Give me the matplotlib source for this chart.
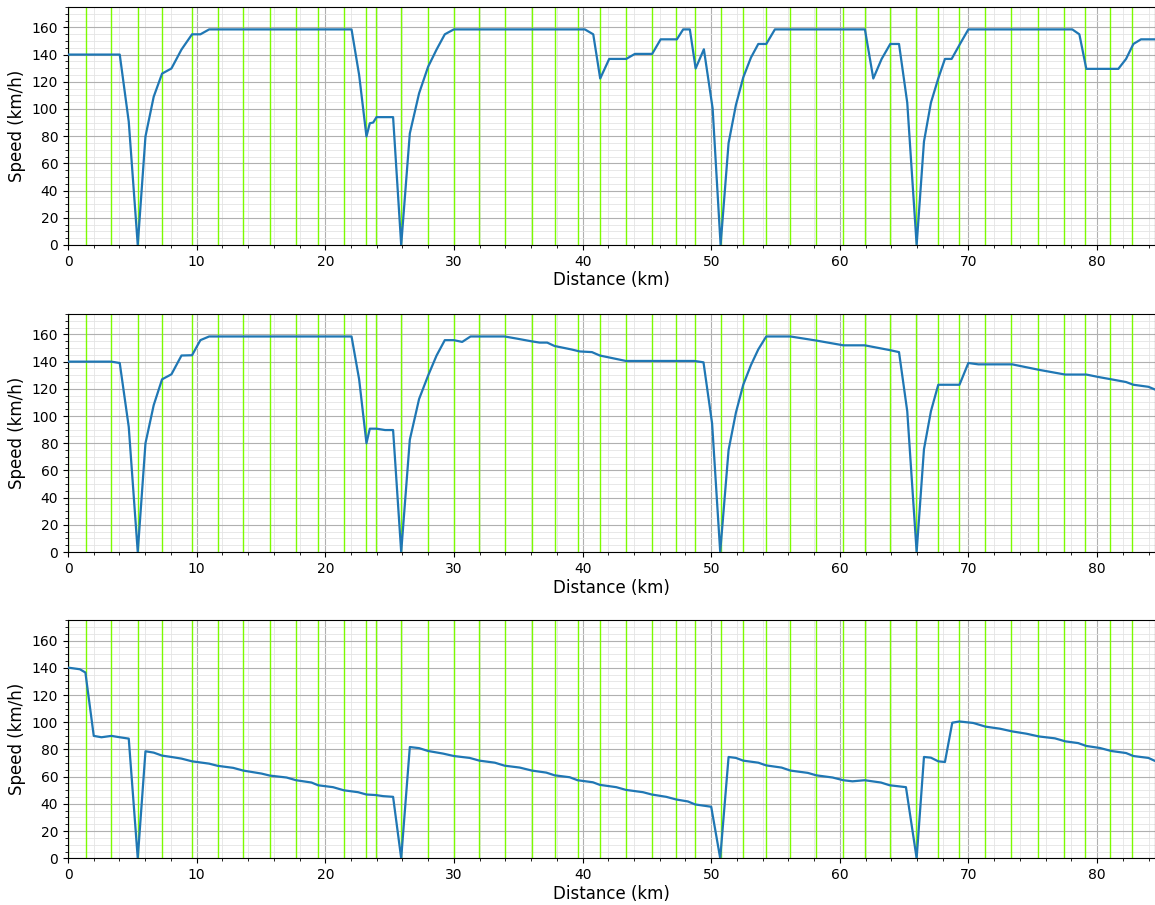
import matplotlib
matplotlib.use("Agg")
import matplotlib.pyplot as plt
from matplotlib.ticker import AutoMinorLocator

# green marker positions (km)
marks = [0, 1.37, 3.34, 5.44, 7.33, 9.66, 11.63, 13.62, 15.69, 17.73, 19.44,
         21.44, 23.2, 23.92, 25.89, 27.99, 29.98, 31.98, 33.94, 36.06, 37.83,
         39.61, 41.34, 43.36, 45.38, 47.3, 48.75, 50.77, 52.45, 54.24, 56.16,
         58.17, 60.27, 61.93, 63.87, 65.92, 67.6, 69.26, 71.28, 73.34, 75.42,
         77.46, 79.09, 81.03, 82.74]

x1 = [0, 4.02, 4.72, 5.42, 6.02, 6.66, 7.31, 8.04, 8.82, 9.64, 10.29, 10.97,
      22.04, 22.63, 23.2, 23.46, 23.72, 23.98, 25.27, 25.9, 26.57, 27.29,
      27.99, 28.65, 29.29, 29.99, 40.18, 40.83, 41.37, 42.07, 43.39, 44.07,
      45.41, 46.07, 47.33, 47.82, 48.34, 48.79, 49.43, 50.11, 50.73, 51.35,
      51.92, 52.49, 53.09, 53.66, 54.28, 54.95, 61.95, 62.6, 63.25, 63.92,
      64.6, 65.24, 65.97, 66.54, 67.08, 67.65, 68.17, 68.69, 69.34, 69.99,
      78.07, 78.62, 79.16, 81.65, 82.25, 82.82, 83.41, 84.5]
v1 = [140, 140, 90.7, 0, 79.8, 109, 126, 129.8, 143.7, 154.9, 154.9, 158.5,
      158.5, 125, 79.8, 89.5, 90, 94, 94, 0, 82, 111.5,
      131, 143.7, 154.9, 158.5, 158.5, 154.9, 122.4, 136.8, 136.8, 140.5,
      140.5, 151.2, 151.2, 158.5, 158.5, 129.8, 143.9, 100.5, 0, 74.9,
      102.9, 123.2, 137.8, 147.8, 147.8, 158.5, 158.5, 122.4, 136.8, 147.8,
      147.8, 104.6, 0, 76, 104.6, 122.4, 136.8, 136.8, 147.8, 158.5,
      158.5, 154.9, 129.5, 129.5, 136.8, 147.8, 151.2, 151.2]

x2 = [0, 3.37, 4.02, 4.72, 5.42, 6.02, 6.66, 7.31, 8.04, 8.82, 9.64, 10.29,
      10.97, 22.04, 22.63, 23.2, 23.46, 23.98, 24.65, 25.27, 25.9, 26.57,
      27.29, 27.99, 28.65, 29.29, 29.99, 30.64, 31.29, 33.94, 34.85, 36.0,
      36.66, 37.25, 37.82, 39.12, 39.77, 40.73, 41.34, 42.1, 43.37, 48.7,
      49.4, 50.07, 50.7, 51.35, 51.92, 52.49, 53.09, 53.66, 54.28, 56.16,
      58.17, 60.27, 61.93, 63.87, 64.6, 65.24, 65.97, 66.54, 67.08, 67.65,
      69.3, 69.99, 70.77, 73.4, 75.47, 77.52, 79.16, 80.22, 81.1, 82.25,
      82.82, 83.99, 84.5]
v2 = [140, 140, 139, 92, 0, 80, 108, 127, 130.7, 144.5, 144.7, 155.8,
      158.5, 158.5, 127, 80, 90.7, 90.7, 89.7, 89.7, 0, 82.6,
      112.5, 129.7, 144.5, 155.8, 155.8, 154.5, 158.5, 158.5, 157, 155,
      154, 154, 151.5, 149, 147.5, 147, 144.5, 143, 140.5, 140.5,
      139.5, 94.5, 0, 75, 102.5, 123, 137.5, 149, 158.5, 158.5,
      155.5, 152, 152, 148.5, 147, 103.5, 0, 75.6, 103.5, 123,
      123, 139, 138, 138, 134, 130.5, 130.5, 128.5, 127, 125,
      123, 121.5, 119.5]

x3 = [0, 0.92, 1.35, 2.0, 2.6, 3.37, 4.02, 4.72, 5.42, 6.02, 6.66, 7.31,
      8.04, 8.82, 9.64, 10.97, 11.63, 12.84, 13.62, 15.04, 15.69, 16.99,
      17.73, 18.93, 19.44, 20.6, 21.44, 22.55, 23.2, 23.92, 24.5, 25.27,
      25.9, 26.57, 27.29, 27.99, 29.15, 29.99, 31.23, 31.98, 33.18, 33.94,
      35.12, 36.06, 37.18, 37.83, 39.0, 39.61, 40.8, 41.34, 42.62, 43.37,
      44.7, 45.38, 46.5, 47.3, 48.19, 48.75, 50.0, 50.7, 51.35, 51.92,
      52.49, 53.66, 54.28, 55.47, 56.16, 57.51, 58.17, 59.44, 60.27, 60.98,
      61.93, 63.2, 63.87, 65.14, 65.97, 66.54, 67.08, 67.65, 68.17, 68.74,
      69.3, 70.37, 71.33, 72.44, 73.4, 74.51, 75.47, 76.72, 77.52, 78.53,
      79.16, 80.22, 81.1, 82.25, 82.82, 83.99, 84.5]
v3 = [140.2, 139, 136.6, 90, 89, 90, 89, 88, 0, 78.7, 77.7, 75.5,
      74.5, 73.3, 71.3, 69.6, 68, 66.5, 64.5, 62.3, 60.8, 59.4,
      57.4, 55.7, 53.7, 52.3, 50, 48.6, 46.9, 46.5, 45.7, 45.2,
      0, 81.8, 81, 78.9, 77, 75.2, 73.8, 71.8, 70.3, 68.1,
      66.7, 64.5, 63, 61, 59.6, 57.4, 55.9, 54, 52.3, 50.3,
      48.6, 46.9, 45.2, 43.2, 41.8, 39.6, 37.9, 0, 74.5, 73.8,
      71.8, 70.3, 68.3, 66.7, 64.5, 62.8, 61, 59.4, 57.4, 56.6,
      57.4, 55.7, 53.7, 52.3, 0, 74.5, 74, 71.3, 70.8, 99.7,
      100.6, 99.5, 96.8, 95.3, 93.3, 91.6, 89.6, 88.2, 86, 84.7,
      82.6, 81.1, 78.9, 77.4, 75.2, 73.8, 71.6]

series = [(x1, v1), (x2, v2), (x3, v3)]

fig = plt.figure(figsize=(11.55, 9.05), dpi=100)
bottoms = [0.7293, 0.39, 0.0516]

for (xs, vs), b in zip(series, bottoms):
    ax = fig.add_axes([0.0589, b, 0.9411, 0.263])
    for m in marks:
        ax.axvline(m, color="lawngreen", linewidth=1, zorder=1)
    ax.plot(xs, vs, color="#1f77b4", linewidth=1.6, zorder=3)
    ax.set_xlim(0, 84.5)
    ax.set_ylim(0, 175)
    ax.set_yticks(range(0, 161, 20))
    ax.xaxis.set_minor_locator(AutoMinorLocator())
    ax.yaxis.set_minor_locator(AutoMinorLocator())
    ax.grid(which="major", color="#b0b0b0", linewidth=0.8, zorder=0)
    ax.grid(which="minor", color="#e4e4e4", linewidth=0.6, zorder=0)
    ax.set_axisbelow(True)
    ax.set_xlabel("Distance (km)", fontsize=12, labelpad=2)
    ax.set_ylabel("Speed (km/h)", fontsize=12)
    ax.tick_params(labelsize=10)

fig.savefig("out.png", dpi=100)
